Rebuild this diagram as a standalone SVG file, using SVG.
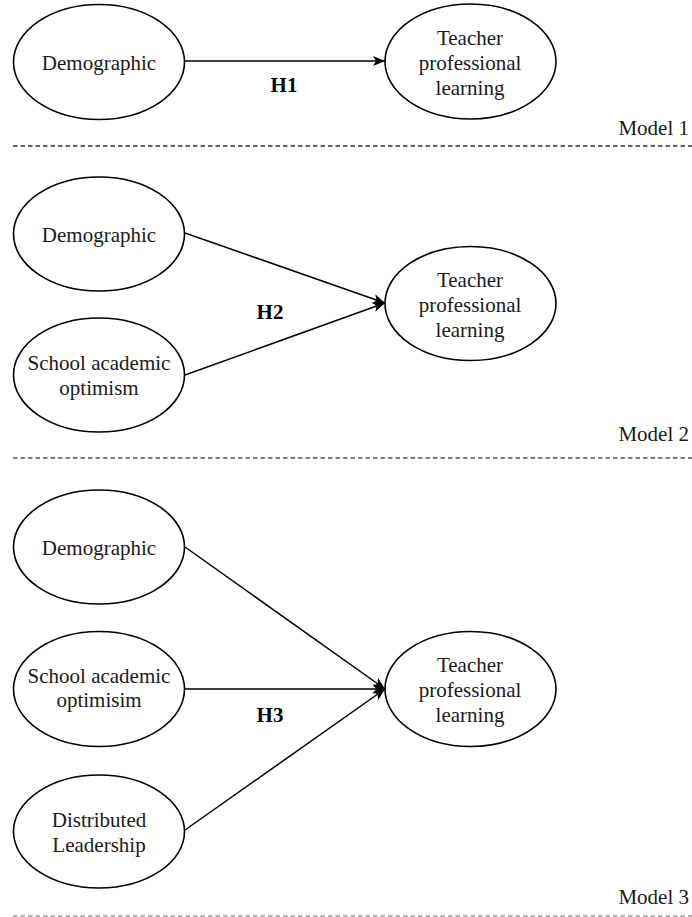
<svg xmlns="http://www.w3.org/2000/svg" width="692" height="917" viewBox="0 0 692 917" font-family="'Liberation Serif', 'Times New Roman', Times, 'DejaVu Serif', serif">
<style>
text{font-family:'Liberation Serif','Times New Roman',Times,'DejaVu Serif',serif;font-size:21px}
.n{fill:#fff;stroke:#000;stroke-width:1.6}
.t{fill:#1a1a1a;text-anchor:middle}
.h{font-weight:bold;fill:#000;text-anchor:middle}
.m{fill:#1a1a1a;text-anchor:end}
.e{stroke:#000;stroke-width:1.5;fill:none;marker-end:url(#a)}
.d{stroke:#333;stroke-width:1.3;stroke-dasharray:4.5 3;fill:none}
</style>
<defs>
<marker id="a" markerWidth="12" markerHeight="10" refX="12" refY="5" orient="auto" markerUnits="userSpaceOnUse">
<path d="M0,0 L12,5 L0,10 L3,5 Z" fill="#000"/>
</marker>
</defs>
<g id="connectors">
<line class="e" x1="185" y1="61" x2="385" y2="61"/>
<line class="e" x1="185" y1="233" x2="385" y2="303"/>
<line class="e" x1="185" y1="375" x2="385" y2="303"/>
<line class="e" x1="185" y1="547" x2="385" y2="689"/>
<line class="e" x1="185" y1="689" x2="385" y2="689"/>
<line class="e" x1="185" y1="830" x2="385" y2="689"/>
</g>
<g id="labels">
<text class="h" x="284" y="92">H1</text>
<text class="h" x="270" y="319">H2</text>
<text class="h" x="270" y="722">H3</text>
<text class="m" x="689" y="135">Model 1</text>
<text class="m" x="689" y="441">Model 2</text>
<text class="m" x="689" y="904">Model 3</text>
</g>
<g id="separators">
<line class="d" x1="13" y1="146" x2="692" y2="146"/>
<line class="d" x1="13" y1="458" x2="692" y2="458" style="stroke:#555"/>
<line class="d" x1="13" y1="916" x2="692" y2="916" style="stroke:#999"/>
</g>
<g id="m1-demographic"><ellipse class="n" cx="99" cy="62" rx="85.5" ry="57.5"/><text class="t" x="99" y="70">Demographic</text></g>
<g id="m1-tpl"><ellipse class="n" cx="470.5" cy="61.5" rx="85.5" ry="57.5"/><text class="t" x="470" y="45">Teacher</text><text class="t" x="470" y="70">professional</text><text class="t" x="470" y="95">learning</text></g>
<g id="m2-demographic"><ellipse class="n" cx="99" cy="234" rx="85.5" ry="57"/><text class="t" x="99" y="242">Demographic</text></g>
<g id="m2-sao"><ellipse class="n" cx="99" cy="375" rx="85.5" ry="57"/><text class="t" x="99" y="370">School academic</text><text class="t" x="99" y="395">optimism</text></g>
<g id="m2-tpl"><ellipse class="n" cx="470.5" cy="303.5" rx="85.5" ry="57"/><text class="t" x="470" y="287">Teacher</text><text class="t" x="470" y="312">professional</text><text class="t" x="470" y="337">learning</text></g>
<g id="m3-demographic"><ellipse class="n" cx="99" cy="547" rx="85.5" ry="57"/><text class="t" x="99" y="555">Demographic</text></g>
<g id="m3-sao"><ellipse class="n" cx="99" cy="689" rx="85.5" ry="57.5"/><text class="t" x="99" y="683">School academic</text><text class="t" x="99" y="707">optimisim</text></g>
<g id="m3-dl"><ellipse class="n" cx="99" cy="831.5" rx="85.5" ry="56.5"/><text class="t" x="99" y="827">Distributed</text><text class="t" x="99" y="852">Leadership</text></g>
<g id="m3-tpl"><ellipse class="n" cx="470.5" cy="689" rx="85.5" ry="57.5"/><text class="t" x="470" y="672">Teacher</text><text class="t" x="470" y="697">professional</text><text class="t" x="470" y="722">learning</text></g>
</svg>
